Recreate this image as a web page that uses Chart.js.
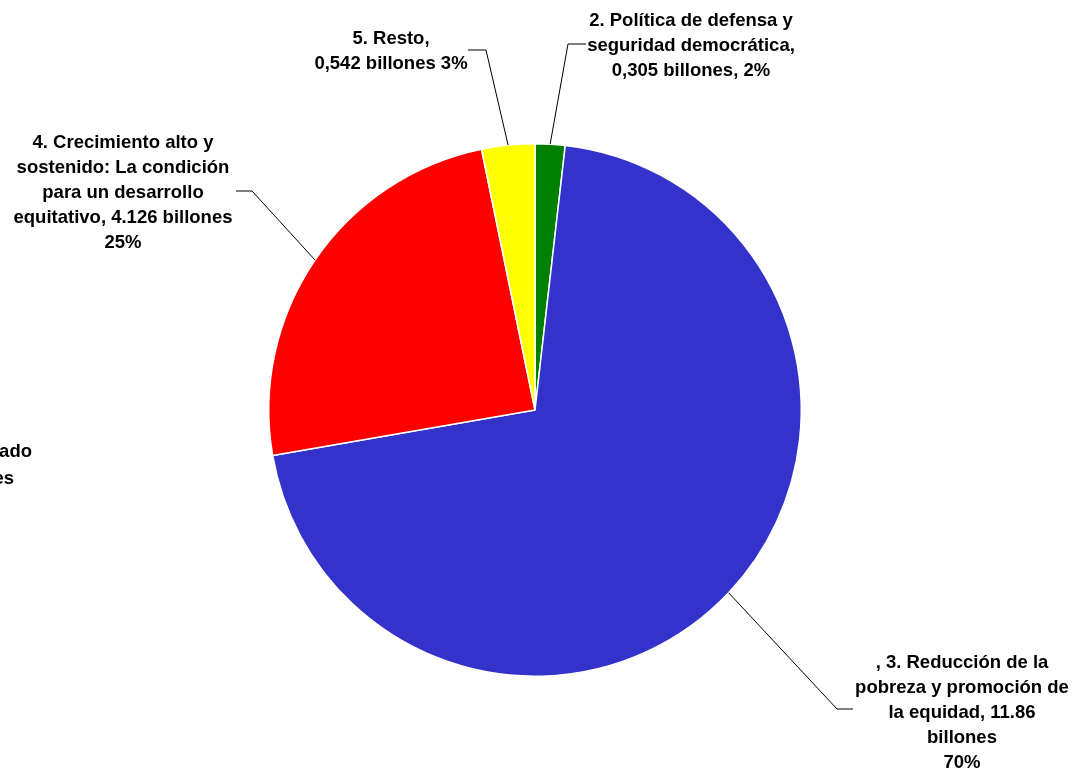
<!DOCTYPE html>
<html>
<head>
<meta charset="utf-8">
<script src="https://cdn.jsdelivr.net/npm/chart.js@4"></script>
<style>
  body { margin: 0; background: #fff; }
  canvas { display: block; }
</style>
</head>
<body>
<canvas id="pie" width="1072" height="768"></canvas>
<script>
// data (billones)
const categories = [
  '2. Política de defensa y seguridad democrática',
  '3. Reducción de la pobreza y promoción de la equidad',
  '4. Crecimiento alto y sostenido: La condición para un desarrollo equitativo',
  '5. Resto'
];
const values = [0.305, 11.86, 4.126, 0.542];
const labelLines = [
  ['2. Política de defensa y', 'seguridad democrática,', '0,305 billones, 2%'],
  [', 3. Reducción de la', 'pobreza y promoción de', 'la equidad, 11.86', 'billones', '70%'],
  ['4. Crecimiento alto y', 'sostenido: La condición', 'para un desarrollo', 'equitativo, 4.126 billones', '25%'],
  ['5. Resto,', '0,542 billones 3%']
];
// label of a slice that is cut off at the left edge
const cutLabel = ['1. Un mejor Estado', '0 billones'];

const colors = ['#008000', '#3333CC', '#FF0000', '#FFFF00'];

// where each label sits: text center x, first baseline, elbow & end of leader line
const labelPos = [
  { x: 691, y: 26, elbow: [568, 44], end: [586, 44] },
  { x: 962, y: 668, elbow: [837, 709], end: [853, 709] },
  { x: 123, y: 148, elbow: [252, 191], end: [236, 191] },
  { x: 391, y: 44, elbow: [486, 50], end: [468, 50] }
];
const lineGap = 25;
const font = 'bold 18.5px "Liberation Sans", Arial, sans-serif';

const leaderLabels = {
  id: 'leaderLabels',
  afterDraw(chart) {
    const ctx = chart.ctx;
    const arcs = chart.getDatasetMeta(0).data;
    ctx.save();
    ctx.font = font;
    ctx.fillStyle = '#000';
    ctx.textAlign = 'center';
    ctx.textBaseline = 'alphabetic';
    ctx.strokeStyle = '#000';
    ctx.lineWidth = 1;
    arcs.forEach((arc, i) => {
      const p = labelPos[i];
      const mid = (arc.startAngle + arc.endAngle) / 2;
      const ax = arc.x + Math.cos(mid) * arc.outerRadius;
      const ay = arc.y + Math.sin(mid) * arc.outerRadius;
      ctx.beginPath();
      ctx.moveTo(ax, ay);
      ctx.lineTo(p.elbow[0], p.elbow[1]);
      ctx.lineTo(p.end[0], p.end[1]);
      ctx.stroke();
      labelLines[i].forEach((t, k) => ctx.fillText(t, p.x, p.y + k * lineGap));
    });
    ctx.textAlign = 'right';
    ctx.fillText(cutLabel[0], 32, 457);
    ctx.fillText(cutLabel[1], 14, 484);
    ctx.restore();
  }
};

new Chart(document.getElementById('pie'), {
  type: 'pie',
  data: {
    labels: categories,
    datasets: [{
      data: values,
      backgroundColor: colors,
      borderColor: '#fff',
      borderWidth: 1.5
    }]
  },
  options: {
    responsive: false,
    animation: false,
    layout: { padding: { top: 143, bottom: 91, left: 268, right: 270 } },
    plugins: {
      legend: { display: false },
      tooltip: { enabled: false }
    }
  },
  plugins: [leaderLabels]
});
</script>
</body>
</html>
